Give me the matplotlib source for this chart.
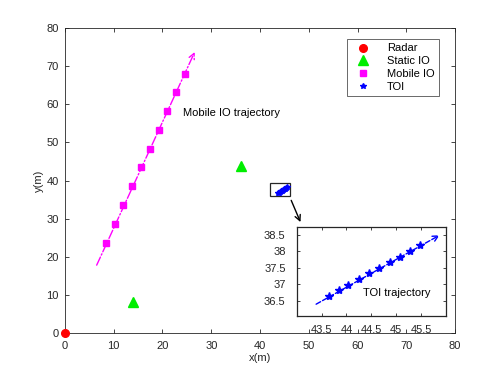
import matplotlib
matplotlib.use('Agg')
import matplotlib.pyplot as plt
from matplotlib.patches import Rectangle

plt.rcParams['font.family'] = ['Liberation Sans', 'DejaVu Sans']

# data
radar_x = [0]
radar_y = [0]
static_x = [14.0, 36.0]
static_y = [8.2, 43.8]
mobile_x = [8.4, 10.2, 12.0, 13.8, 15.6, 17.4, 19.2, 21.0, 22.8, 24.6]
mobile_y = [23.5, 28.5, 33.5, 38.5, 43.5, 48.4, 53.3, 58.2, 63.1, 68.0]
mobile_traj_x = [6.5, 26.6]
mobile_traj_y = [17.8, 73.7]
toi_x = [43.65, 43.84, 44.03, 44.25, 44.45, 44.65, 44.87, 45.07, 45.28, 45.48]
toi_y = [36.65, 36.81, 36.97, 37.15, 37.33, 37.49, 37.67, 37.83, 38.01, 38.18]
toi_traj_x = [43.39, 45.87]
toi_traj_y = [36.39, 38.49]

axcol = '#262626'

fig = plt.figure(figsize=(4.98, 3.74), dpi=100)
ax = fig.add_axes([0.1305, 0.1096, 0.7832, 0.8154])

ax.plot(radar_x, radar_y, 'o', color='red', markersize=5.5, clip_on=False, zorder=5, label='Radar')
ax.plot(static_x, static_y, '^', color='#00ee00', markersize=6.5, label='Static IO')
ax.plot(mobile_x, mobile_y, 's', color='magenta', markersize=5, label='Mobile IO')
ax.plot(toi_x, toi_y, '*', color='blue', markersize=4, label='TOI')

ax.annotate('', xy=(mobile_traj_x[1], mobile_traj_y[1]), xytext=(mobile_traj_x[0], mobile_traj_y[0]),
            arrowprops=dict(arrowstyle='->', color='magenta', linestyle='-.', lw=1,
                            shrinkA=0, shrinkB=0, mutation_scale=10))
ax.text(24.3, 57.8, 'Mobile IO trajectory', fontsize=8, va='center', ha='left')

# box around the TOI and arrow to the inset
ax.add_patch(Rectangle((42.1, 35.9), 4.0, 3.5, fill=False, edgecolor=axcol, lw=0.9))
ax.annotate('', xy=(48.3, 29.1), xytext=(46.4, 34.8),
            arrowprops=dict(arrowstyle='->', color='black', lw=1, shrinkA=0, shrinkB=0))

ax.set_xlim(0, 80)
ax.set_ylim(0, 80)
ax.set_xticks(range(0, 81, 10))
ax.set_yticks(range(0, 81, 10))
ax.set_xlabel('x(m)', fontsize=8, color=axcol, labelpad=1)
ax.set_ylabel('y(m)', fontsize=8, color=axcol, labelpad=2)
ax.tick_params(direction='in', top=True, right=True, labelsize=8, colors=axcol, length=3, width=0.6)
ax.tick_params(axis='x', pad=6)
ax.tick_params(axis='y', pad=4.5)
for s in ax.spines.values():
    s.set_color(axcol)
    s.set_linewidth(0.6)

leg = ax.legend(loc='upper right', fontsize=8, bbox_to_anchor=(0.959, 0.964), borderaxespad=0,
                frameon=True, fancybox=False, edgecolor=axcol, handlelength=2.1, handletextpad=1.1,
                labelspacing=0.25, borderpad=0.4, markerscale=1.0)
leg.get_frame().set_linewidth(0.6)

# inset
axi = fig.add_axes([0.5958, 0.1559, 0.2998, 0.238])
axi.plot(toi_x, toi_y, '*', color='blue', markersize=6)
axi.annotate('', xy=(toi_traj_x[1], toi_traj_y[1]), xytext=(toi_traj_x[0], toi_traj_y[0]),
             arrowprops=dict(arrowstyle='->', color='blue', linestyle='--', lw=1,
                             shrinkA=0, shrinkB=0, mutation_scale=10))
axi.text(44.33, 36.72, 'TOI trajectory', fontsize=8, va='center', ha='left')
axi.set_xlim(43.0, 46.0)
axi.set_ylim(36.04, 38.75)
axi.set_xticks([43.5, 44, 44.5, 45, 45.5])
axi.set_xticklabels(['43.5', '44', '44.5', '45', '45.5'])
axi.set_yticks([36.5, 37, 37.5, 38, 38.5])
axi.set_yticklabels(['36.5', '37', '37.5', '38', '38.5'])
axi.tick_params(direction='in', right=True, top=True, labelsize=8, colors=axcol, length=2, width=0.6)
axi.tick_params(axis='x', pad=7)
axi.tick_params(axis='y', pad=8)
for s in axi.spines.values():
    s.set_color(axcol)
    s.set_linewidth(0.9)

fig.savefig('out.png', dpi=100)
